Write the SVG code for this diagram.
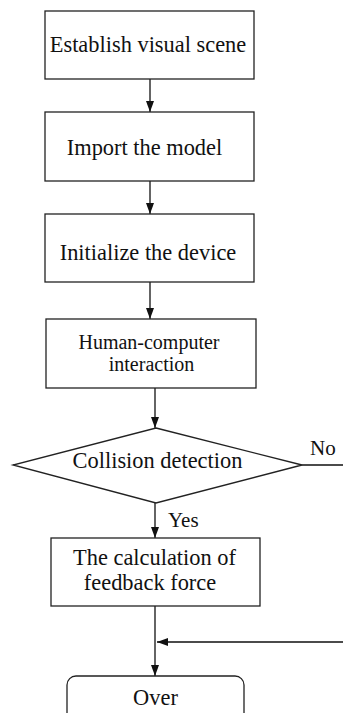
<svg xmlns="http://www.w3.org/2000/svg" width="343" height="713" viewBox="0 0 343 713">
  <style>
    .box { fill: #ffffff; stroke: #222222; stroke-width: 1.3; }
    .line { fill: none; stroke: #111111; stroke-width: 1.3; }
    text { font-family: "Liberation Serif", "Times New Roman", serif; fill: #111111; text-anchor: middle; }
    .big { font-size: 22.4px; }
    .small { font-size: 20px; }
    .tag { font-size: 21px; text-anchor: start; }
  </style>
  <defs>
    <!-- solid triangular arrowhead, 11 long and 8 wide -->
    <marker id="arrow" viewBox="0 0 10 10" refX="10" refY="5" markerWidth="11" markerHeight="8" markerUnits="userSpaceOnUse" preserveAspectRatio="none" orient="auto">
      <path d="M0,0 L10,5 L0,10 z" fill="#111111"/>
    </marker>
  </defs>
  <rect width="343" height="713" fill="#ffffff"/>

  <g id="connectors">
    <line class="line" x1="150" y1="79" x2="150" y2="112" marker-end="url(#arrow)"/>
    <line class="line" x1="150" y1="181" x2="150" y2="214" marker-end="url(#arrow)"/>
    <line class="line" x1="150" y1="282" x2="150" y2="319" marker-end="url(#arrow)"/>
    <line class="line" x1="155" y1="388" x2="155" y2="428" marker-end="url(#arrow)"/>
    <line class="line" x1="155" y1="503" x2="155" y2="538" marker-end="url(#arrow)"/>
    <line class="line" x1="155" y1="606" x2="155" y2="676" marker-end="url(#arrow)"/>
    <!-- "No" branch loops round the right edge and rejoins above Over -->
    <path class="line" d="M302,465 H346 V642 H157" marker-end="url(#arrow)"/>
    <text class="tag" x="310" y="455">No</text>
    <text class="tag" x="168" y="527">Yes</text>
  </g>

  <g id="establish">
    <rect class="box" x="45" y="11" width="209" height="68"/>
    <text class="big" x="148" y="52">Establish visual scene</text>
  </g>

  <g id="import">
    <rect class="box" x="45" y="112" width="209" height="69"/>
    <text class="big" x="144.5" y="155">Import the model</text>
  </g>

  <g id="initialize">
    <rect class="box" x="45" y="214" width="209" height="68"/>
    <text class="big" x="148" y="260">Initialize the device</text>
  </g>

  <g id="interaction">
    <rect class="box" x="46" y="319" width="210" height="69"/>
    <text class="small" x="149" y="349">Human-computer</text>
    <text class="small" x="151.5" y="371">interaction</text>
  </g>

  <g id="collision">
    <polygon class="box" points="156,428 302,465 156,503 13,465" stroke-width="1"/>
    <text class="big" x="157.5" y="468">Collision detection</text>
  </g>

  <g id="feedback">
    <rect class="box" x="51" y="538" width="209" height="68"/>
    <text class="big" x="154.5" y="565">The calculation of</text>
    <text class="big" x="150" y="590">feedback force</text>
  </g>

  <g id="over">
    <rect class="box" x="67" y="676" width="177" height="60" rx="9" ry="9"/>
    <text class="big" x="155.5" y="705">Over</text>
  </g>
</svg>
